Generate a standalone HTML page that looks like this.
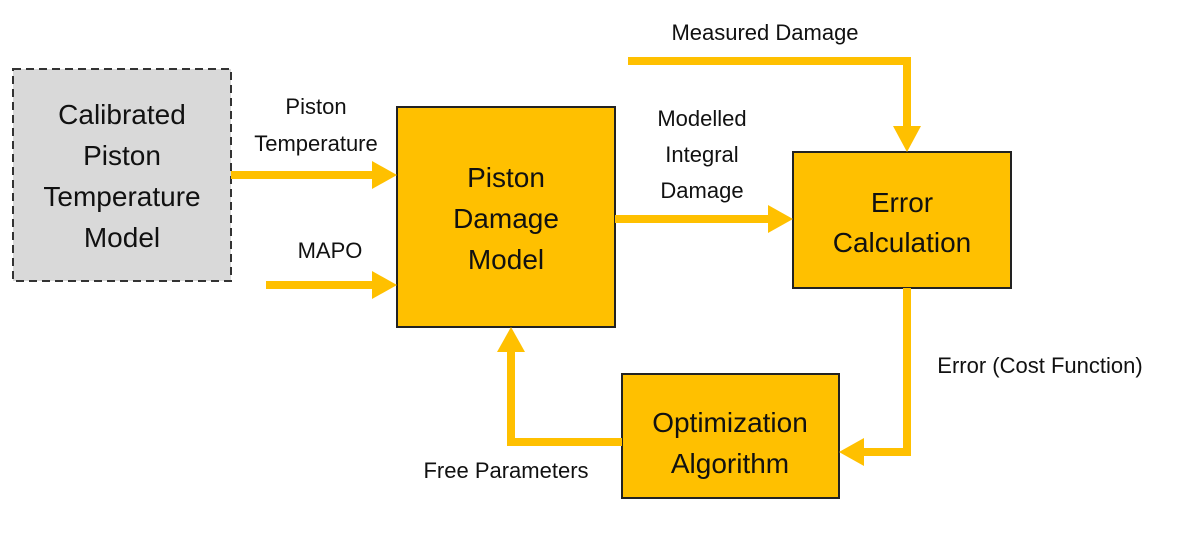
<!DOCTYPE html>
<html><head><style>
body{margin:0;background:#fff;}
svg text{font-family:"Liberation Sans",sans-serif;fill:#111;}
</style></head><body>
<svg width="1179" height="538" viewBox="0 0 1179 538" xmlns="http://www.w3.org/2000/svg">
<rect x="13" y="69" width="218" height="212" fill="#d9d9d9" stroke="#333" stroke-width="2" stroke-dasharray="8,5"/>
<rect x="397" y="107" width="218" height="220" fill="#FFC000" stroke="#222" stroke-width="2"/>
<rect x="793" y="152" width="218" height="136" fill="#FFC000" stroke="#222" stroke-width="2"/>
<rect x="622" y="374" width="217" height="124" fill="#FFC000" stroke="#222" stroke-width="2"/>
<g fill="none" stroke="#FFC000" stroke-width="8">
<line x1="231" y1="175" x2="375" y2="175"/>
<line x1="266" y1="285" x2="375" y2="285"/>
<line x1="615" y1="219" x2="771" y2="219"/>
<polyline points="628,61 907,61 907,128"/>
<polyline points="907,288 907,452 862,452"/>
<polyline points="622,442 511,442 511,350"/>
</g>
<g fill="#FFC000">
<polygon points="372,161 397,175 372,189"/>
<polygon points="372,271 397,285 372,299"/>
<polygon points="768,205 793,219 768,233"/>
<polygon points="893,126 907,152 921,126"/>
<polygon points="864,438 839,452 864,466"/>
<polygon points="497,352 511,327 525,352"/>
</g>
<g font-size="28" text-anchor="middle">
<text x="122" y="124">Calibrated</text>
<text x="122" y="165">Piston</text>
<text x="122" y="206">Temperature</text>
<text x="122" y="247">Model</text>
<text x="506" y="187">Piston</text>
<text x="506" y="228">Damage</text>
<text x="506" y="269">Model</text>
<text x="902" y="212">Error</text>
<text x="902" y="252">Calculation</text>
<text x="730" y="432">Optimization</text>
<text x="730" y="473">Algorithm</text>
</g>
<g font-size="22" text-anchor="middle">
<text x="316" y="114">Piston</text>
<text x="316" y="151">Temperature</text>
<text x="330" y="258">MAPO</text>
<text x="702" y="126">Modelled</text>
<text x="702" y="162">Integral</text>
<text x="702" y="198">Damage</text>
<text x="765" y="40">Measured Damage</text>
<text x="1040" y="373">Error (Cost Function)</text>
<text x="506" y="478">Free Parameters</text>
</g>
</svg>
</body></html>
